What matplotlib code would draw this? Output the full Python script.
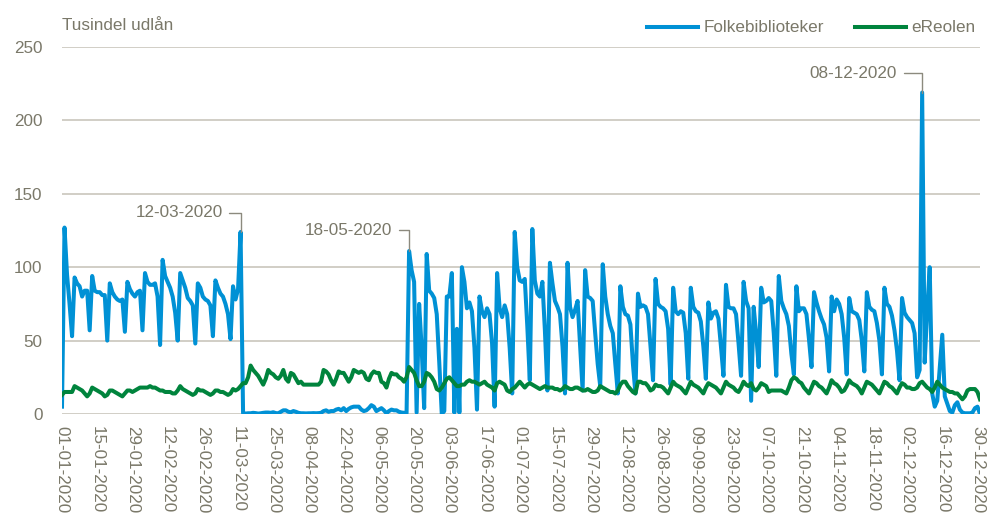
import matplotlib
matplotlib.use("Agg")
import matplotlib.pyplot as plt
import matplotlib.dates as mdates
import pandas as pd

plt.rcParams["font.family"] = ["Liberation Sans", "DejaVu Sans"]

# --- data: thousand loans per day, 2020 (rows = Mon..Sun, first row Wed..Sun) ---
folkebiblioteker = [
    5, 127, 95, 75, 53,
    93, 89, 87, 80, 84, 84, 57,
    94, 84, 83, 83, 81, 81, 50,
    89, 83, 80, 78, 77, 78, 56,
    90, 85, 82, 80, 83, 84, 57,
    96, 90, 88, 88, 89, 80, 47,
    105, 94, 90, 86, 80, 69, 50,
    96, 91, 86, 79, 77, 74, 48,
    89, 86, 80, 78, 77, 74, 53,
    91, 86, 82, 80, 75, 68, 51,
    87, 78, 85, 124, 0.5, 0.3, 0.5,
    0.5, 0.8, 0.6, 0.3, 0.5, 0.8, 1,
    1, 0.8, 1.2, 0.6, 0.5, 1.5, 2.5,
    2.5, 1.5, 1.2, 2, 1.5, 0.8, 0.5,
    0.5, 0.4, 0.5, 0.5, 0.6, 0.5, 0.6,
    0.8, 2, 2.5, 1.5, 2, 2, 3,
    3.5, 2.5, 4, 2, 3.5, 4.5, 5,
    5, 5, 3, 2, 2.5, 4, 6,
    5, 2, 3, 4, 2.5, 0.5, 2,
    3, 2.5, 2.5, 1.5, 1, 0.8, 0.5,
    111, 98, 90, 1, 75, 45, 4,
    109, 84, 82, 79, 68, 35, 0,
    2, 80, 80, 96, 1, 58, 1,
    100, 90, 72, 76, 70, 45, 3,
    80, 70, 66, 72, 68, 48, 5,
    96, 72, 66, 74, 68, 45, 14,
    124, 100, 91, 90, 92, 60, 23,
    126, 91, 82, 80, 90, 57, 16,
    103, 89, 77, 73, 68, 46, 14,
    103, 73, 66, 71, 77, 46, 16,
    98, 80, 79, 77, 55, 34, 19,
    102, 80, 68, 60, 55, 34, 14,
    87, 73, 68, 67, 61, 34, 14,
    82, 73, 74, 73, 68, 46, 23,
    92, 75, 73, 72, 70, 58, 20,
    86, 70, 68, 70, 69, 55, 24,
    86, 73, 70, 69, 63, 46, 24,
    76, 65, 69, 70, 65, 46, 26,
    88, 73, 72, 72, 68, 48, 26,
    90, 77, 72, 9, 73, 55, 32,
    86, 76, 77, 79, 77, 55, 26,
    94, 77, 72, 68, 60, 41, 27,
    87, 70, 72, 72, 68, 51, 32,
    83, 76, 70, 65, 61, 52, 29,
    80, 70, 78, 75, 68, 52, 27,
    79, 70, 69, 68, 64, 50, 29,
    83, 73, 71, 70, 62, 50, 27,
    86, 75, 73, 67, 57, 43, 23,
    79, 69, 66, 64, 62, 55, 25,
    30, 219, 35, 70, 100, 14, 5,
    9, 32, 54, 12, 7, 2, 1,
    6, 8, 3, 1, 0.5, 0.5, 0.5,
    1, 4, 5, 0,
]

ereolen = [
    13, 15, 15, 15, 15,
    19, 18, 17, 16, 14, 12, 14,
    18, 17, 16, 15, 14, 12, 13,
    16, 16, 15, 14, 13, 12, 14,
    16, 16, 15, 16, 17, 18, 18,
    18, 18, 19, 18, 18, 17, 16,
    16, 15, 15, 15, 14, 14, 16,
    19, 17, 16, 15, 14, 13, 14,
    17, 16, 16, 15, 14, 13, 14,
    16, 16, 15, 15, 14, 13, 14,
    17, 16, 17, 19, 21, 21, 25,
    33, 30, 28, 26, 23, 20, 24,
    30, 28, 27, 25, 24, 26, 30,
    24, 22, 28, 27, 24, 21, 22,
    20, 20, 20, 20, 20, 20, 20,
    22, 30, 29, 27, 23, 20, 24,
    29, 28, 28, 25, 22, 25, 30,
    29, 28, 29, 28, 24, 23, 27,
    29, 28, 28, 22, 21, 18, 24,
    28, 27, 27, 25, 24, 22, 25,
    32, 30, 28, 23, 19, 19, 22,
    28, 27, 25, 22, 17, 16, 18,
    21, 24, 25, 23, 21, 19, 19,
    20, 20, 22, 23, 22, 22, 21,
    20, 21, 22, 20, 19, 18, 16,
    21, 22, 21, 20, 16, 15, 17,
    18, 20, 22, 20, 18, 20, 21,
    20, 19, 18, 17, 18, 19, 18,
    18, 18, 17, 17, 16, 17, 19,
    18, 17, 17, 18, 18, 17, 16,
    16, 17, 16, 15, 15, 16, 19,
    18, 17, 16, 15, 15, 14, 16,
    20, 22, 22, 19, 17, 15, 14,
    22, 22, 21, 21, 19, 16, 17,
    20, 19, 19, 18, 16, 14, 18,
    22, 20, 19, 18, 16, 14, 18,
    22, 20, 19, 18, 16, 14, 18,
    21, 20, 19, 18, 16, 14, 18,
    22, 20, 19, 18, 16, 15, 18,
    22, 20, 19, 21, 17, 16, 18,
    21, 20, 19, 15, 16, 16, 16,
    16, 16, 15, 14, 18, 23, 25,
    24, 22, 21, 18, 16, 14, 18,
    22, 21, 19, 18, 16, 14, 18,
    23, 21, 20, 18, 15, 16, 19,
    23, 21, 20, 19, 17, 14, 18,
    22, 21, 20, 18, 16, 14, 18,
    22, 21, 19, 18, 16, 14, 18,
    21, 20, 18, 18, 17, 17, 18,
    21, 22, 20, 18, 17, 15, 18,
    22, 20, 18, 17, 16, 15, 15,
    14, 14, 12, 10, 12, 16, 17,
    17, 17, 15, 10,
]

dates = pd.date_range("2020-01-01", periods=len(folkebiblioteker), freq="D")
tick_dates = pd.date_range("2020-01-01", "2020-12-31", freq="14D")
callouts = ["2020-03-12", "2020-05-18", "2020-12-08"]
callout_offsets = [(-13, 14), (-12, 15), (-18, 14)]   # points, text relative to peak

BLUE = "#0091d5"
GREEN = "#00843d"
TXT = "#7a7869"
GRID = "#c9c6bc"
FS = 12.3

fig = plt.figure(figsize=(9.88, 5.17), dpi=100)
ax = fig.add_axes([62 / 988, 1 - 414 / 517, (980 - 62) / 988, (414 - 47) / 517])

ax.plot(dates, folkebiblioteker, color=BLUE, lw=2.9, label="Folkebiblioteker",
        solid_joinstyle="round", zorder=3)
ax.plot(dates, ereolen, color=GREEN, lw=2.9, label="eReolen",
        solid_joinstyle="round", zorder=4)

ax.set_ylim(0, 250)
ax.set_yticks(range(0, 251, 50))
ax.set_xlim(dates[0], dates[-1])
ax.set_xticks(tick_dates)
ax.xaxis.set_major_formatter(mdates.DateFormatter("%d-%m-%Y"))
ax.grid(axis="y", color=GRID, lw=1.2)
ax.set_axisbelow(True)
for s in ax.spines.values():
    s.set_visible(False)
ax.tick_params(axis="both", length=0, labelsize=FS, labelcolor=TXT)
ax.tick_params(axis="y", pad=14)
ax.tick_params(axis="x", pad=9)
for lab in ax.get_xticklabels():
    lab.set_rotation(-90)
    lab.set_ha("center")
    lab.set_va("top")

# callouts with elbow connectors
for day, off in zip(callouts, callout_offsets):
    i = dates.get_loc(pd.Timestamp(day))
    ax.annotate(dates[i].strftime("%d-%m-%Y"), xy=(dates[i], folkebiblioteker[i]),
                xytext=off, textcoords="offset points", ha="right", va="center",
                fontsize=FS, color=TXT,
                arrowprops=dict(arrowstyle="-", color="#8c8a7e", lw=1,
                                shrinkA=3, shrinkB=0,
                                connectionstyle="angle,angleA=0,angleB=90,rad=0"))

fig.text(62 / 988, 1 - 25 / 517, "Tusindel udlån", fontsize=FS, color=TXT,
         ha="left", va="center")

fig.legend(loc="center right", bbox_to_anchor=(975 / 988, 1 - 28 / 517), ncol=2,
           frameon=False, fontsize=FS, labelcolor=TXT, handlelength=3.0,
           handletextpad=0.3, columnspacing=1.8, borderaxespad=0, borderpad=0)

fig.savefig("out.png", dpi=100)
